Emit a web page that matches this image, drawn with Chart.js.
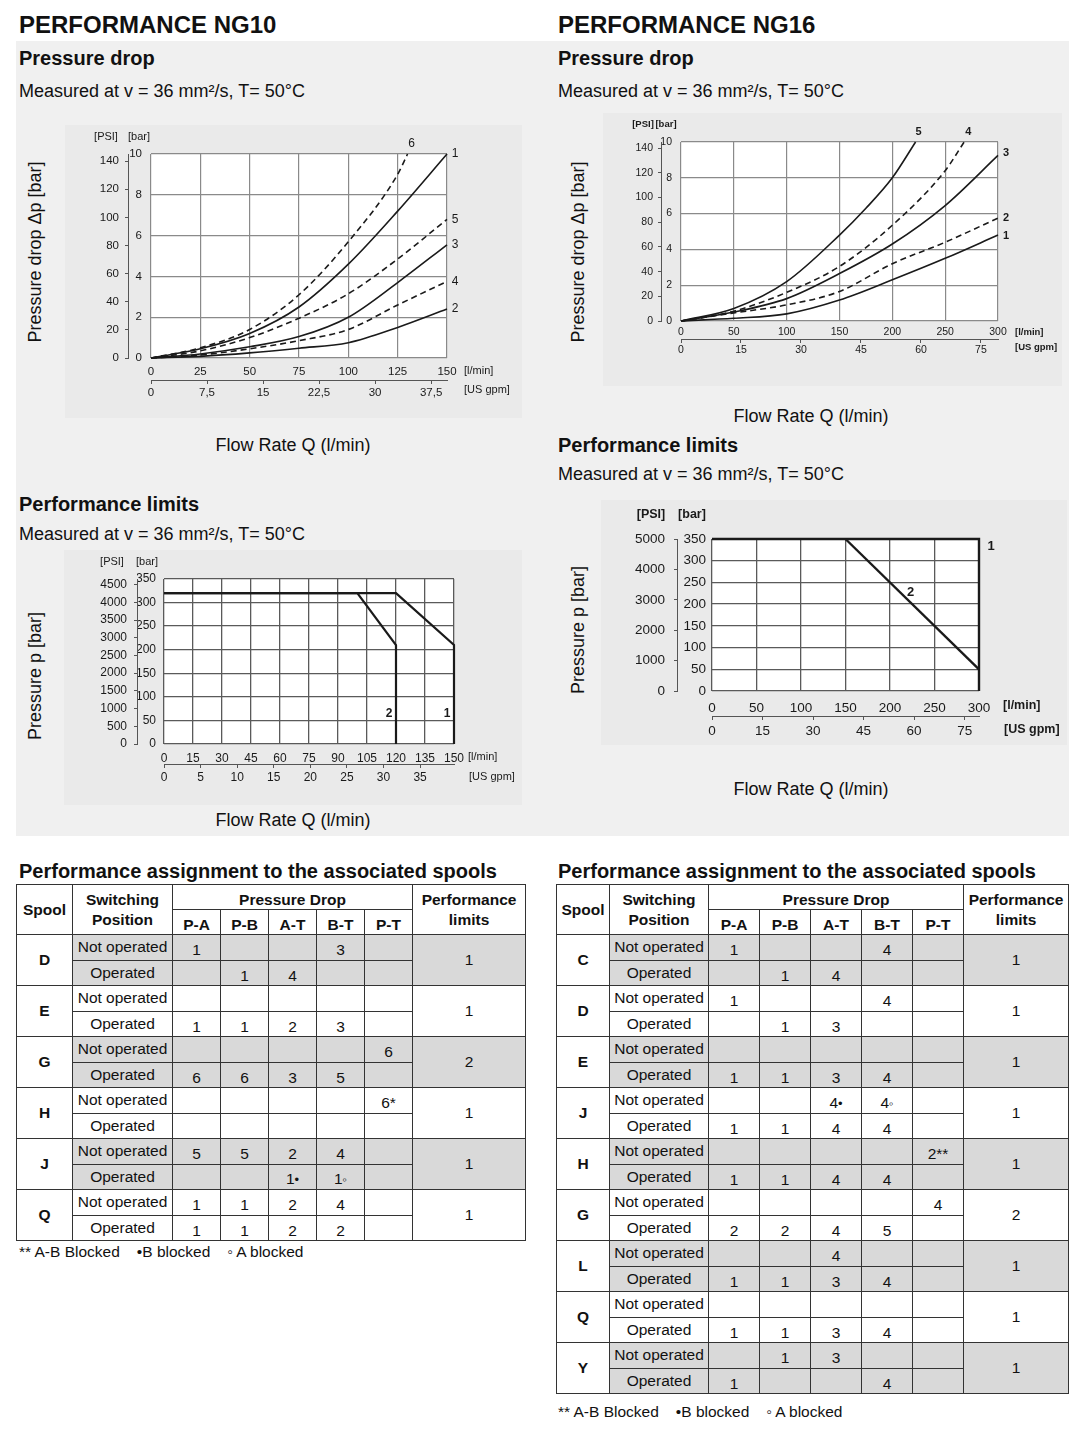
<!DOCTYPE html>
<html>
<head>
<meta charset="utf-8">
<script src="https://cdn.jsdelivr.net/npm/chart.js@4.4.1/dist/chart.umd.min.js"></script>
<style>
  html,body{margin:0;padding:0;background:#fff;}
  body{width:1088px;height:1434px;position:relative;overflow:hidden;font-family:'Liberation Sans',Arial,sans-serif;color:#111;}
  .abs{position:absolute;white-space:nowrap;line-height:1;}
  .h1{font-size:24px;font-weight:bold;}
  .h2{font-size:20px;font-weight:bold;}
  .sub{font-size:18px;}
  .ax{font-size:18px;}
  .rot{transform:translate(-50%,-50%) rotate(-90deg);}
  .cen{transform:translate(-50%,-50%);}
  canvas{position:absolute;}
  table.tbl{position:absolute;border-collapse:collapse;table-layout:fixed;font-size:15.5px;color:#111;}
  .tbl td,.tbl th{border:1px solid #333;padding:0;text-align:center;white-space:nowrap;overflow:hidden;line-height:16px;}
  .tbl th{font-weight:bold;line-height:20px;}
  .tbl tr{height:25.5px;}
  .tbl td.num{padding-top:6px;}
  .tbl td.sp{font-weight:bold;background:#fff;}
  .tbl .g{background:#d9d9d9;}
  .tbl .mk{font-size:13px;}
  .foot{font-size:15.5px;}
  .foot span{margin-right:17px;}
</style>
</head>
<body>
<div class="abs" style="left:16px;top:41px;width:1053px;height:795px;background:#f0f0f0;"></div>

<div class="abs h1" style="left:19px;top:13px;">PERFORMANCE NG10</div>
<div class="abs h2" style="left:19px;top:48px;">Pressure drop</div>
<div class="abs sub" style="left:19px;top:82px;">Measured at v = 36 mm²/s, T= 50°C</div>
<div class="abs ax rot" style="left:35px;top:252px;">Pressure drop Δp [bar]</div>
<div class="abs ax cen" style="left:293px;top:445px;">Flow Rate Q (l/min)</div>
<div class="abs h2" style="left:19px;top:494px;">Performance limits</div>
<div class="abs sub" style="left:19px;top:525px;">Measured at v = 36 mm²/s, T= 50°C</div>
<div class="abs ax rot" style="left:35px;top:676px;">Pressure p [bar]</div>
<div class="abs ax cen" style="left:293px;top:820px;">Flow Rate Q (l/min)</div>

<div class="abs h1" style="left:558px;top:13px;">PERFORMANCE NG16</div>
<div class="abs h2" style="left:558px;top:48px;">Pressure drop</div>
<div class="abs sub" style="left:558px;top:82px;">Measured at v = 36 mm²/s, T= 50°C</div>
<div class="abs ax rot" style="left:578px;top:252px;">Pressure drop Δp [bar]</div>
<div class="abs ax cen" style="left:811px;top:416px;">Flow Rate Q (l/min)</div>
<div class="abs h2" style="left:558px;top:435px;">Performance limits</div>
<div class="abs sub" style="left:558px;top:465px;">Measured at v = 36 mm²/s, T= 50°C</div>
<div class="abs ax rot" style="left:578px;top:630px;">Pressure p [bar]</div>
<div class="abs ax cen" style="left:811px;top:789px;">Flow Rate Q (l/min)</div>

<canvas id="cA" width="457" height="293" style="left:65px;top:125px;"></canvas>
<canvas id="cB" width="459" height="273" style="left:603px;top:113px;"></canvas>
<canvas id="cC" width="458" height="255" style="left:64px;top:550px;"></canvas>
<canvas id="cD" width="466" height="245" style="left:601px;top:500px;"></canvas>

<div class="abs h2" style="left:19px;top:861px;">Performance assignment to the associated spools</div>
<div class="abs h2" style="left:558px;top:861px;">Performance assignment to the associated spools</div>
<div id="tblL"></div>
<div id="tblR"></div>
<div class="abs foot" style="left:19px;top:1244px;"><span>** A-B Blocked</span><span>•B blocked</span><span>◦ A blocked</span></div>
<div class="abs foot" style="left:558px;top:1404px;"><span>** A-B Blocked</span><span>•B blocked</span><span>◦ A blocked</span></div>

<script>
// ---------- DATA: NG10 pressure drop ----------
const ng10PdFlowTicks = [0, 25, 50, 75, 100, 125, 150];
const ng10PdGpmTicks = [0, 7.5, 15, 22.5, 30, 37.5];
const ng10PdBarTicks = [0, 2, 4, 6, 8, 10];
const ng10PdPsiTicks = [0, 20, 40, 60, 80, 100, 120, 140];
const ng10PdFlow = [0, 25, 50, 75, 100, 125, 150];
const ng10PdCurve1 = [0, 0.45, 1.2, 2.5, 4.6, 7.2, 10];
const ng10PdCurve2 = [0, 0.08, 0.25, 0.48, 0.75, 1.5, 2.4];
const ng10PdCurve3 = [0, 0.2, 0.55, 1.05, 2.0, 3.7, 5.55];
const ng10PdCurve4 = [0, 0.15, 0.45, 0.85, 1.4, 2.6, 3.75];
const ng10PdCurve5 = [0, 0.35, 1.0, 1.95, 3.15, 4.85, 6.8];
const ng10PdCurve6Flow = [0, 25, 50, 75, 100, 125, 130];
const ng10PdCurve6 = [0, 0.5, 1.4, 3.1, 5.7, 9.0, 10];

// ---------- DATA: NG16 pressure drop ----------
const ng16PdFlowTicks = [0, 50, 100, 150, 200, 250, 300];
const ng16PdGpmTicks = [0, 15, 30, 45, 60, 75];
const ng16PdBarTicks = [0, 2, 4, 6, 8, 10];
const ng16PdPsiTicks = [0, 20, 40, 60, 80, 100, 120, 140];
const ng16PdFlow = [0, 50, 100, 150, 200, 250, 300];
const ng16PdCurve1 = [0, 0.15, 0.4, 1.17, 2.3, 3.5, 4.8];
const ng16PdCurve2 = [0, 0.45, 0.9, 1.65, 3.2, 4.4, 5.75];
const ng16PdCurve3 = [0, 0.5, 1.25, 2.65, 4.3, 6.45, 9.25];
const ng16PdCurve4Flow = [0, 50, 100, 150, 200, 250, 268];
const ng16PdCurve4 = [0, 0.55, 1.6, 3.05, 5.35, 8.4, 10];
const ng16PdCurve5Flow = [0, 50, 100, 150, 175, 200, 222];
const ng16PdCurve5 = [0, 0.7, 2.2, 4.8, 6.3, 8.0, 10];

// ---------- DATA: NG10 performance limits ----------
const ng10PlFlowTicks = [0, 15, 30, 45, 60, 75, 90, 105, 120, 135, 150];
const ng10PlGpmTicks = [0, 5, 10, 15, 20, 25, 30, 35];
const ng10PlBarTicks = [0, 50, 100, 150, 200, 250, 300, 350];
const ng10PlPsiTicks = [0, 500, 1000, 1500, 2000, 2500, 3000, 3500, 4000, 4500];
const ng10PlCurve1Flow = [0, 120, 150, 150];
const ng10PlCurve1 = [320, 320, 210, 0];
const ng10PlCurve2Flow = [0, 100, 120, 120];
const ng10PlCurve2 = [320, 320, 210, 0];

// ---------- DATA: NG16 performance limits ----------
const ng16PlFlowTicks = [0, 50, 100, 150, 200, 250, 300];
const ng16PlGpmTicks = [0, 15, 30, 45, 60, 75];
const ng16PlBarTicks = [0, 50, 100, 150, 200, 250, 300, 350];
const ng16PlPsiTicks = [0, 1000, 2000, 3000, 4000, 5000];
const ng16PlCurve1Flow = [0, 300, 300];
const ng16PlCurve1 = [350, 350, 0];
const ng16PlCurve2Flow = [150, 300];
const ng16PlCurve2 = [350, 50];

// ---------- DATA: tables ----------
const tableCols = ['P-A', 'P-B', 'A-T', 'B-T', 'P-T'];
const ng10Spools = ['D', 'E', 'G', 'H', 'J', 'Q'];
const ng10Limits = ['1', '1', '2', '1', '1', '1'];
const ng10Rows = [
  ['Not operated', '1', '', '', '3', ''],
  ['Operated', '', '1', '4', '', ''],
  ['Not operated', '', '', '', '', ''],
  ['Operated', '1', '1', '2', '3', ''],
  ['Not operated', '', '', '', '', '6'],
  ['Operated', '6', '6', '3', '5', ''],
  ['Not operated', '', '', '', '', '6*'],
  ['Operated', '', '', '', '', ''],
  ['Not operated', '5', '5', '2', '4', ''],
  ['Operated', '', '', '1•', '1◦', ''],
  ['Not operated', '1', '1', '2', '4', ''],
  ['Operated', '1', '1', '2', '2', '']
];
const ng16Spools = ['C', 'D', 'E', 'J', 'H', 'G', 'L', 'Q', 'Y'];
const ng16Limits = ['1', '1', '1', '1', '1', '2', '1', '1', '1'];
const ng16Rows = [
  ['Not operated', '1', '', '', '4', ''],
  ['Operated', '', '1', '4', '', ''],
  ['Not operated', '1', '', '', '4', ''],
  ['Operated', '', '1', '3', '', ''],
  ['Not operated', '', '', '', '', ''],
  ['Operated', '1', '1', '3', '4', ''],
  ['Not operated', '', '', '4•', '4◦', ''],
  ['Operated', '1', '1', '4', '4', ''],
  ['Not operated', '', '', '', '', '2**'],
  ['Operated', '1', '1', '4', '4', ''],
  ['Not operated', '', '', '', '', '4'],
  ['Operated', '2', '2', '4', '5', ''],
  ['Not operated', '', '', '4', '', ''],
  ['Operated', '1', '1', '3', '4', ''],
  ['Not operated', '', '', '', '', ''],
  ['Operated', '1', '1', '3', '4', ''],
  ['Not operated', '', '1', '3', '', ''],
  ['Operated', '1', '', '', '4', '']
];

// ---------- helpers ----------
const L_PER_GAL = 3.785;
const BAR_TO_PSI = 14.5038;
const FONT = "'Liberation Sans', Arial, sans-serif";

const decor = {
  id: 'decor',
  beforeDraw(chart, args, o) {
    const {ctx, chartArea: a, width, height} = chart;
    ctx.save();
    ctx.fillStyle = o.bg;
    ctx.fillRect(0, 0, width, height);
    ctx.fillStyle = '#ffffff';
    ctx.fillRect(a.left, a.top, a.right - a.left, a.bottom - a.top);
    ctx.restore();
  },
  afterDraw(chart, args, o) {
    const {ctx, chartArea: a, scales} = chart;
    ctx.save();
    ctx.fillStyle = o.color;
    ctx.textBaseline = 'middle';
    for (const it of o.items) {
      let x, y;
      if (it.q !== undefined) {
        x = scales.x.getPixelForValue(it.q);
        y = scales.y.getPixelForValue(it.p);
      } else {
        x = a[it.ax];
        y = a[it.ay];
      }
      ctx.font = it.font || o.font;
      ctx.textAlign = it.align || 'center';
      ctx.fillText(it.text, x + (it.dx || 0), y + (it.dy || 0));
    }
    ctx.restore();
  }
};

function pts(xs, ys) { return xs.map((x, i) => ({x: x, y: ys[i]})); }
function fixTicks(arr) { return s => { s.ticks = arr.map(v => ({value: v})); }; }
function commaFmt(v) { return String(v).replace('.', ','); }
function plainFmt(v) { return String(v); }

function build(id, c) {
  const tf = {family: FONT, size: c.fs};
  return new Chart(document.getElementById(id), {
    type: 'line',
    data: {datasets: c.datasets},
    options: {
      responsive: false, animation: false, devicePixelRatio: 1,
      layout: {padding: c.pad},
      plugins: {legend: {display: false}, tooltip: {enabled: false},
        decor: {bg: '#eaeaea', color: '#1a1a1a', font: c.labelFont, items: c.items}},
      elements: {point: {radius: 0}},
      scales: {
        x: {type: 'linear', position: 'bottom', weight: 0, min: 0, max: c.flowMax,
          afterBuildTicks: fixTicks(c.flowTicks), afterFit: s => { s.height = c.xH; },
          grid: {color: c.gridColor, lineWidth: c.gridW, drawTicks: false},
          border: {display: false},
          ticks: {font: tf, color: '#1a1a1a', padding: c.xPad, maxRotation: 0, autoSkip: false, callback: plainFmt}},
        x2: {type: 'linear', position: 'bottom', weight: 1, min: 0, max: c.flowMax / L_PER_GAL,
          afterBuildTicks: fixTicks(c.gpmTicks), afterFit: s => { s.height = c.gH; },
          grid: {drawOnChartArea: false, drawTicks: true, tickLength: 4, color: '#555'},
          border: {display: true, color: '#555', width: 1},
          ticks: {font: tf, color: '#1a1a1a', padding: c.gPad, maxRotation: 0, autoSkip: false, callback: commaFmt}},
        y: {type: 'linear', position: 'left', weight: 0, min: 0, max: c.barMax,
          afterBuildTicks: fixTicks(c.barTicks), afterFit: s => { s.width = c.barW; },
          grid: {color: c.gridColor, lineWidth: c.gridW, drawTicks: false},
          border: {display: false},
          ticks: {font: tf, color: '#1a1a1a', padding: c.bPad, autoSkip: false, callback: plainFmt}},
        y2: {type: 'linear', position: 'left', weight: 1, min: 0, max: c.psiMax,
          afterBuildTicks: fixTicks(c.psiTicks), afterFit: s => { s.width = c.psiW; },
          grid: {drawOnChartArea: false, drawTicks: true, tickLength: 3, color: '#555'},
          border: {display: true, color: '#555', width: 1},
          ticks: {font: tf, color: '#1a1a1a', padding: c.pPad, autoSkip: false, callback: plainFmt}}
      }
    },
    plugins: [decor]
  });
}

function curve(xs, ys, dashed, w, smooth) {
  return {data: pts(xs, ys), borderColor: '#1a1a1a', borderWidth: w,
    borderDash: dashed ? [6, 4] : [], tension: 0,
    cubicInterpolationMode: smooth ? 'monotone' : 'default', fill: false, clip: 6};
}

// ---------- Chart A: NG10 pressure drop ----------
build('cA', {
  pad: {left: 13, right: 75, top: 29, bottom: 18},
  psiW: 50, barW: 23, xH: 22, gH: 20, fs: 11.5,
  xPad: 7, gPad: 2, bPad: 9, pPad: 6,
  flowMax: 150, barMax: 10, psiMax: 10 * BAR_TO_PSI,
  flowTicks: ng10PdFlowTicks, gpmTicks: ng10PdGpmTicks, barTicks: ng10PdBarTicks, psiTicks: ng10PdPsiTicks,
  gridColor: '#8a8a8a', gridW: 1.2, labelFont: '11px ' + FONT,
  datasets: [
    curve(ng10PdFlow, ng10PdCurve1, false, 1.6, true),
    curve(ng10PdFlow, ng10PdCurve2, false, 1.6, true),
    curve(ng10PdFlow, ng10PdCurve3, false, 1.6, true),
    curve(ng10PdFlow, ng10PdCurve4, true, 1.6, true),
    curve(ng10PdFlow, ng10PdCurve5, true, 1.6, true),
    curve(ng10PdCurve6Flow, ng10PdCurve6, true, 1.6, true)
  ],
  items: [
    {text: '6', q: ng10PdCurve6Flow.at(-1), p: ng10PdCurve6.at(-1), dx: 4, dy: -10, font: '12px ' + FONT},
    {text: '1', q: ng10PdFlow.at(-1), p: ng10PdCurve1.at(-1), dx: 8, dy: 0, font: '12px ' + FONT},
    {text: '5', q: ng10PdFlow.at(-1), p: ng10PdCurve5.at(-1), dx: 8, dy: 0, font: '12px ' + FONT},
    {text: '3', q: ng10PdFlow.at(-1), p: ng10PdCurve3.at(-1), dx: 8, dy: 0, font: '12px ' + FONT},
    {text: '4', q: ng10PdFlow.at(-1), p: ng10PdCurve4.at(-1), dx: 8, dy: 0, font: '12px ' + FONT},
    {text: '2', q: ng10PdFlow.at(-1), p: ng10PdCurve2.at(-1), dx: 8, dy: 0, font: '12px ' + FONT},
    {text: '[PSI]', ax: 'left', ay: 'top', dx: -45, dy: -17},
    {text: '[bar]', ax: 'left', ay: 'top', dx: -12, dy: -17},
    {text: '[l/min]', ax: 'right', ay: 'bottom', dx: 17, dy: 13, align: 'left'},
    {text: '[US gpm]', ax: 'right', ay: 'bottom', dx: 17, dy: 32, align: 'left'}
  ]
});

// ---------- Chart B: NG16 pressure drop ----------
build('cB', {
  pad: {left: 13, right: 64, top: 29, bottom: 29},
  psiW: 45, barW: 20, xH: 18, gH: 18, fs: 10.5,
  xPad: 5, gPad: 1, bPad: 9, pPad: 5,
  flowMax: 300, barMax: 10, psiMax: 10 * BAR_TO_PSI,
  flowTicks: ng16PdFlowTicks, gpmTicks: ng16PdGpmTicks, barTicks: ng16PdBarTicks, psiTicks: ng16PdPsiTicks,
  gridColor: '#8a8a8a', gridW: 1.2, labelFont: 'bold 9.5px ' + FONT,
  datasets: [
    curve(ng16PdFlow, ng16PdCurve1, false, 1.6, true),
    curve(ng16PdFlow, ng16PdCurve2, true, 1.6, true),
    curve(ng16PdFlow, ng16PdCurve3, false, 1.6, true),
    curve(ng16PdCurve4Flow, ng16PdCurve4, true, 1.6, true),
    curve(ng16PdCurve5Flow, ng16PdCurve5, false, 1.6, true)
  ],
  items: [
    {text: '5', q: ng16PdCurve5Flow.at(-1), p: ng16PdCurve5.at(-1), dx: 3, dy: -10, font: 'bold 11px ' + FONT},
    {text: '4', q: ng16PdCurve4Flow.at(-1), p: ng16PdCurve4.at(-1), dx: 4, dy: -10, font: 'bold 11px ' + FONT},
    {text: '3', q: ng16PdFlow.at(-1), p: ng16PdCurve3.at(-1), dx: 8, dy: -2, font: 'bold 11px ' + FONT},
    {text: '2', q: ng16PdFlow.at(-1), p: ng16PdCurve2.at(-1), dx: 8, dy: 0, font: 'bold 11px ' + FONT},
    {text: '1', q: ng16PdFlow.at(-1), p: ng16PdCurve1.at(-1), dx: 8, dy: 1, font: 'bold 11px ' + FONT},
    {text: '[PSI]', ax: 'left', ay: 'top', dx: -38, dy: -18},
    {text: '[bar]', ax: 'left', ay: 'top', dx: -15, dy: -18},
    {text: '[l/min]', ax: 'right', ay: 'bottom', dx: 17, dy: 11, align: 'left'},
    {text: '[US gpm]', ax: 'right', ay: 'bottom', dx: 17, dy: 26, align: 'left'}
  ]
});

// ---------- Chart C: NG10 performance limits ----------
build('cC', {
  pad: {left: 13, right: 68, top: 29, bottom: 21},
  psiW: 60, barW: 27, xH: 20, gH: 20, fs: 12,
  xPad: 7, gPad: 2, bPad: 8, pPad: 7,
  flowMax: 150, barMax: 350, psiMax: 4660,
  flowTicks: ng10PlFlowTicks, gpmTicks: ng10PlGpmTicks, barTicks: ng10PlBarTicks, psiTicks: ng10PlPsiTicks,
  gridColor: '#5a5a5a', gridW: 1.3, labelFont: '11px ' + FONT,
  datasets: [
    curve(ng10PlCurve1Flow, ng10PlCurve1, false, 2.2, false),
    curve(ng10PlCurve2Flow, ng10PlCurve2, false, 2.2, false)
  ],
  items: [
    {text: '2', q: ng10PlCurve2Flow.at(-1), p: 0, dx: -7, dy: -30, font: 'bold 12px ' + FONT},
    {text: '1', q: ng10PlCurve1Flow.at(-1), p: 0, dx: -7, dy: -30, font: 'bold 12px ' + FONT},
    {text: '[PSI]', ax: 'left', ay: 'top', dx: -52, dy: -17},
    {text: '[bar]', ax: 'left', ay: 'top', dx: -17, dy: -17},
    {text: '[l/min]', ax: 'right', ay: 'bottom', dx: 14, dy: 13, align: 'left'},
    {text: '[US gpm]', ax: 'right', ay: 'bottom', dx: 15, dy: 33, align: 'left'}
  ]
});

// ---------- Chart D: NG16 performance limits ----------
build('cD', {
  pad: {left: 12, right: 88, top: 39, bottom: 7},
  psiW: 64, barW: 35, xH: 25, gH: 22, fs: 13.5,
  xPad: 9, gPad: 3, bPad: 6, pPad: 9,
  flowMax: 300, barMax: 350, psiMax: 5000,
  flowTicks: ng16PlFlowTicks, gpmTicks: ng16PlGpmTicks, barTicks: ng16PlBarTicks, psiTicks: ng16PlPsiTicks,
  gridColor: '#5a5a5a', gridW: 1.3, labelFont: '13px ' + FONT,
  datasets: [
    curve(ng16PlCurve1Flow, ng16PlCurve1, false, 2.4, false),
    curve(ng16PlCurve2Flow, ng16PlCurve2, false, 2.4, false)
  ],
  items: [
    {text: '1', q: ng16PlCurve1Flow.at(-1), p: ng16PlCurve1[0], dx: 12, dy: 7, font: 'bold 13px ' + FONT},
    {text: '2', q: ng16PlCurve2Flow[0], p: ng16PlCurve2[0], dx: 65, dy: 53, font: 'bold 13px ' + FONT},
    {text: '[PSI]', ax: 'left', ay: 'top', dx: -61, dy: -24, font: 'bold 12.5px ' + FONT},
    {text: '[bar]', ax: 'left', ay: 'top', dx: -20, dy: -24, font: 'bold 12.5px ' + FONT},
    {text: '[l/min]', ax: 'right', ay: 'bottom', dx: 24, dy: 15, align: 'left', font: 'bold 12.5px ' + FONT},
    {text: '[US gpm]', ax: 'right', ay: 'bottom', dx: 25, dy: 39, align: 'left', font: 'bold 12.5px ' + FONT}
  ]
});

// ---------- Tables ----------
function cellHtml(v) {
  const m = v.match(/^(.*?)([•◦])$/);
  if (m) return m[1] + '<span class="mk">' + m[2] + '</span>';
  return v;
}
function buildTable(hostId, left, widths, spools, rows, limits) {
  let h = '<table class="tbl" style="left:' + left + 'px;top:884px;width:' + widths.reduce((a, b) => a + b, 0) + 'px;">';
  h += '<colgroup>' + widths.map(w => '<col style="width:' + w + 'px">').join('') + '</colgroup>';
  h += '<tr style="height:25px"><th rowspan="2">Spool</th><th rowspan="2">Switching<br>Position</th>' +
       '<th colspan="5" style="padding-top:5px;line-height:18px">Pressure Drop</th><th rowspan="2">Performance<br>limits</th></tr>';
  h += '<tr style="height:25px">' + tableCols.map(c => '<th style="padding-top:5px;line-height:18px">' + c + '</th>').join('') + '</tr>';
  spools.forEach((s, i) => {
    const g = i % 2 === 0 ? ' g' : '';
    for (let k = 0; k < 2; k++) {
      const r = rows[i * 2 + k];
      h += '<tr>';
      if (k === 0) h += '<td class="sp" rowspan="2">' + s + '</td>';
      h += '<td class="sw' + g + '">' + r[0] + '</td>';
      for (let j = 1; j <= 5; j++) h += '<td class="num' + g + '">' + cellHtml(r[j]) + '</td>';
      if (k === 0) h += '<td class="lim' + g + '" rowspan="2">' + limits[i] + '</td>';
      h += '</tr>';
    }
  });
  h += '</table>';
  document.getElementById(hostId).innerHTML = h;
}
buildTable('tblL', 16, [56, 100, 48, 48, 48, 48, 48, 113], ng10Spools, ng10Rows, ng10Limits);
buildTable('tblR', 556, [53, 99, 51, 51, 51, 51, 51, 105], ng16Spools, ng16Rows, ng16Limits);
</script>
</body>
</html>
